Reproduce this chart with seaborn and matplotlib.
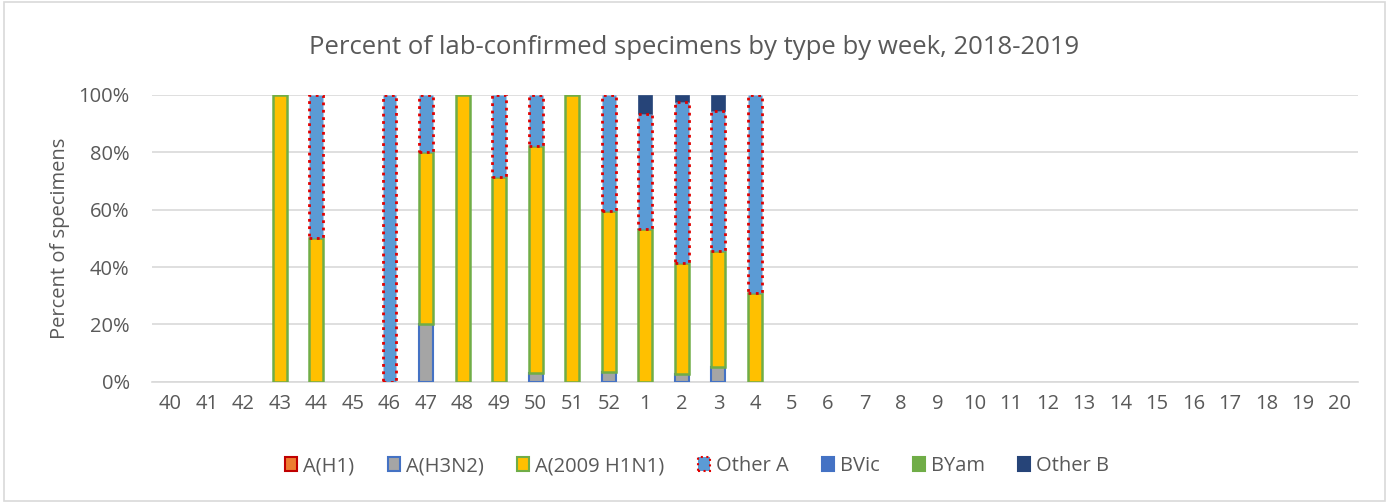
import numpy as np
import pandas as pd
import matplotlib
matplotlib.use("Agg")
import matplotlib.pyplot as plt
import seaborn as sns
from matplotlib.patches import Patch, Rectangle
from matplotlib.ticker import PercentFormatter

weeks = [str(w) for w in range(40, 53)] + [str(w) for w in range(1, 21)]
n = len(weeks)

def series(d):
    return [d.get(w, 0.0) for w in weeks]

a_h1 = series({})
a_h3n2 = series({"47": 20, "50": 3.2, "52": 3.5, "2": 2.8, "3": 5.3})
a_h1n1 = series({"43": 100, "44": 50, "47": 60, "48": 100, "49": 71.4, "50": 78.8,
                 "51": 100, "52": 56, "1": 53.3, "2": 38.5, "3": 40.2, "4": 31})
other_a = series({"44": 50, "46": 100, "47": 20, "49": 28.6, "50": 18, "52": 40.5,
                  "1": 40, "2": 56.2, "3": 48.7, "4": 69})
bvic = series({})
byam = series({})
other_b = series({"1": 6.7, "2": 2.5, "3": 5.8})

labels = ["A(H1)", "A(H3N2)", "A(2009 H1N1)", "Other A", "BVic", "BYam", "Other B"]
values = [a_h1, a_h3n2, a_h1n1, other_a, bvic, byam, other_b]
faces = ["#ED7D31", "#A5A5A5", "#FFC000", "#5B9BD5", "#4472C4", "#70AD47", "#264478"]
edges = ["#C00000", "#4472C4", "#70AD47", "#E00000", "#4472C4", "#70AD47", "#264478"]
styles = ["-", "-", "-", ":", "-", "-", "-"]
widths = [1.5, 1.5, 1.8, 2.0, 0.5, 0.5, 0.5]
zorders = [3, 3, 3, 5, 3, 3, 4]

sns.set_style("white")
font = ["Open Sans", "DejaVu Sans"]
plt.rcParams["font.family"] = font
txt = "#595959"

fig = plt.figure(figsize=(13.89, 5.03), dpi=100)
ax = fig.add_axes([0.1094, 0.2406, 0.8683, 0.5714])

bottom = np.zeros(n)
for lab, vals, fc, ec, ls, lw, zo in zip(labels, values, faces, edges, styles, widths, zorders):
    vals = np.array(vals, dtype=float) / 100.0
    before = len(ax.patches)
    sns.barplot(x=weeks, y=vals, order=weeks, bottom=bottom.copy(), width=0.38,
                color=fc, saturation=1, edgecolor=ec, linewidth=lw, linestyle=ls,
                errorbar=None, ax=ax, zorder=zo)
    for p in ax.patches[before:]:
        p.set_facecolor(fc)
        p.set_edgecolor(ec)
        p.set_linestyle(ls)
        p.set_linewidth(lw)
        p.set_zorder(zo)
        if p.get_height() <= 0:
            p.set_visible(False)
    bottom = bottom + vals

ax.set_xlim(-0.5, n - 0.5)
ax.set_ylim(0, 1)
ax.set_yticks(np.arange(0, 1.01, 0.2))
ax.yaxis.set_major_formatter(PercentFormatter(1.0, decimals=0))
ax.grid(axis="y", color="#D9D9D9", linewidth=1.2, zorder=0)
ax.set_axisbelow(True)
for s in ["left", "right", "top"]:
    ax.spines[s].set_visible(False)
ax.spines["bottom"].set_color("#D9D9D9")
ax.spines["bottom"].set_linewidth(1.2)
ax.tick_params(axis="both", length=0, labelsize=14.5, labelcolor=txt)
ax.tick_params(axis="x", pad=9)
ax.tick_params(axis="y", pad=16)
ax.set_xlabel("")
ax.set_ylabel("Percent of specimens", fontsize=14.5, color=txt, labelpad=6)

fig.suptitle("Percent of lab-confirmed specimens by type by week, 2018-2019",
             x=0.500, y=0.93, fontsize=18.5, color=txt)

handles = [Patch(facecolor=fc, edgecolor=ec, linestyle=ls, linewidth=1.5)
           for fc, ec, ls in zip(faces, edges, styles)]
fig.legend(handles, labels, loc="center", bbox_to_anchor=(0.502, 0.073), ncol=7,
           frameon=False, fontsize=14.5, handlelength=0.6, handleheight=0.7,
           handletextpad=0.3, columnspacing=1.65, labelcolor=txt)

fig.add_artist(Rectangle((0.003, 0.004), 0.994, 0.992, transform=fig.transFigure,
                         fill=False, edgecolor="#D9D9D9", linewidth=1.2))

fig.savefig("out.png", dpi=100)
